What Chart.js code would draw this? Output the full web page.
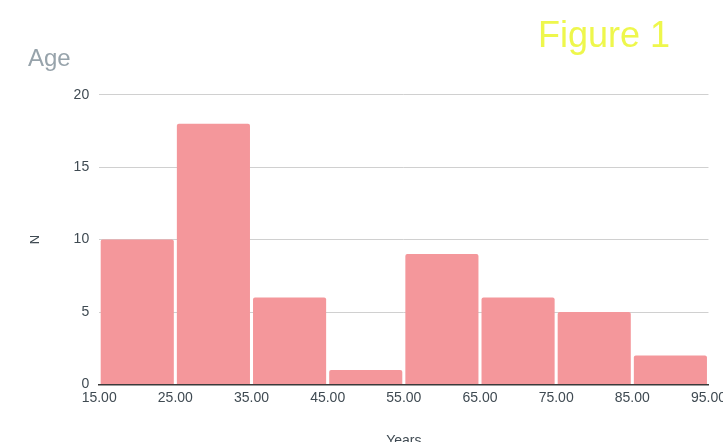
<!DOCTYPE html>
<html>
<head>
<meta charset="utf-8">
<script src="https://cdn.jsdelivr.net/npm/chart.js@4"></script>
<style>
    html, body { margin: 0; padding: 0; background: #fff; overflow: hidden; }
    #wrap { position: relative; width: 731px; height: 450px; }
    #fig { position: absolute; left: 538px; top: 14px; font-family: 'Liberation Sans', Arial, sans-serif;
           font-size: 36px; color: #eef74c; }
</style>
</head>
<body>
<div id="wrap">
    <canvas id="chart"></canvas>
    <div id="fig">Figure 1</div>
</div>
<script>
// bin centres (years) and counts
const binCenters = [20, 30, 40, 50, 60, 70, 80, 90];
const counts = [10, 18, 6, 1, 9, 6, 5, 2];
const xTicks = [15, 25, 35, 45, 55, 65, 75, 85, 95];
const yTicks = [0, 5, 10, 15, 20];

const FONT = "'Liberation Sans', Arial, sans-serif";

window.onload = function () {
    let ctx = document.getElementById('chart').getContext('2d');
    let chart = new Chart(ctx, {
        type: 'bar',
        data: {
            datasets: [{
                label: 'N',
                data: binCenters.map(function (c, i) { return { x: c, y: counts[i] }; }),
                backgroundColor: 'rgb(244, 151, 155)',
                borderRadius: 2,
                borderSkipped: 'bottom',
                barPercentage: 0.96,
                categoryPercentage: 1
            }]
        },
        options: {
            responsive: true,
            maintainAspectRatio: false,
            animation: false,
            layout: { padding: { left: 28, right: 0, top: 0, bottom: 0 } },
            plugins: {
                legend: { display: false },
                tooltip: { enabled: false },
                title: {
                    display: true,
                    text: 'Age',
                    align: 'start',
                    color: '#97a3ab',
                    font: { family: FONT, size: 24, weight: 'normal' },
                    padding: { top: 45, bottom: 21 }
                }
            },
            scales: {
                x: {
                    type: 'linear',
                    min: 15,
                    max: 95,
                    offset: false,
                    afterBuildTicks: function (axis) {
                        axis.ticks = xTicks.map(function (v) { return { value: v }; });
                    },
                    ticks: {
                        color: '#3f4a52',
                        font: { family: FONT, size: 14 },
                        maxRotation: 0,
                        autoSkip: false,
                        padding: 5,
                        callback: function (v) { return v.toFixed(2); }
                    },
                    grid: { display: false, drawTicks: false },
                    border: { display: true, color: '#3a3a3a', width: 1.5 },
                    title: {
                        display: true,
                        text: 'Years',
                        color: '#3f4a52',
                        font: { family: FONT, size: 14 },
                        padding: { top: 22, bottom: 0 }
                    }
                },
                y: {
                    min: 0,
                    max: 20,
                    afterBuildTicks: function (axis) {
                        axis.ticks = yTicks.map(function (v) { return { value: v }; });
                    },
                    ticks: {
                        color: '#3f4a52',
                        font: { family: FONT, size: 14 },
                        padding: 10
                    },
                    grid: { color: '#d0d0d0', drawTicks: false },
                    border: { display: false },
                    title: {
                        display: true,
                        text: 'N',
                        color: '#3f4a52',
                        font: { family: FONT, size: 13 },
                        padding: { top: 0, bottom: 20 }
                    }
                }
            }
        }
    });
};
</script>
</body>
</html>
